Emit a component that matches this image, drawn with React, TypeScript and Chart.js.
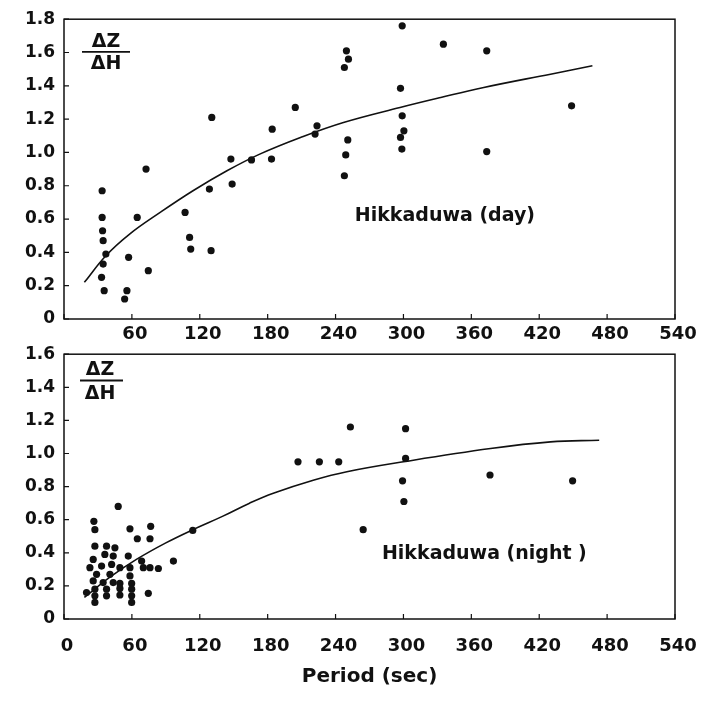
import React, { useEffect, useRef } from "react";
import { Chart, registerables } from "chart.js";

Chart.register(...registerables);

// ---------- data ----------
const dayPeriod = [
  33.7, 33.7, 34.1, 34.6, 37.0, 34.6, 33.2, 35.5, 55.6, 53.6, 57.1, 64.7, 72.5, 74.5,
  107, 111, 112, 130, 128.5, 130.6, 147.5, 148.6, 165.7, 183.4, 184, 204.4, 223.6, 221.9,
  249.6, 251.4, 247.8, 250.8, 249, 247.8, 298.9, 297.4, 298.9, 300.4, 297.4, 298.6,
  335.3, 373.6, 373.6, 448.6,
];
const dayRatio = [
  0.77, 0.61, 0.53, 0.47, 0.39, 0.33, 0.25, 0.17, 0.17, 0.12, 0.37, 0.61, 0.9, 0.29,
  0.64, 0.49, 0.42, 0.41, 0.78, 1.21, 0.96, 0.81, 0.955, 0.96, 1.14, 1.27, 1.16, 1.11,
  1.61, 1.56, 1.51, 1.075, 0.985, 0.86, 1.76, 1.385, 1.22, 1.13, 1.09, 1.02,
  1.65, 1.61, 1.005, 1.28,
];
const dayCurvePeriod = [18, 37, 58, 85, 114, 144, 173, 209, 247, 297, 333, 371, 430, 467];
const dayCurveRatio = [0.22, 0.38, 0.51, 0.64, 0.77, 0.89, 0.99, 1.09, 1.18, 1.27, 1.33, 1.39, 1.47, 1.52];

const nightPeriod = [
  47.9, 26.4, 27.3, 58.3, 76.6, 64.8, 76, 27.3, 37.6, 45, 36.1, 43.5, 25.8, 56.8, 68.6,
  22.9, 33.2, 42.1, 49.4, 58.3, 70.1, 76, 83.4, 28.8, 40.6, 58.3, 25.8, 34.6, 43.5, 49.4,
  59.8, 27.3, 37.6, 49.4, 59.8, 19.9, 27.3, 37.6, 49.4, 59.8, 27.3, 59.8, 74.5, 96.7, 113.8,
  206.8, 225.7, 242.8, 253.1, 301.9, 301.9, 299.2, 300.4, 264.4, 376.5, 449.5,
];
const nightRatio = [
  0.68, 0.59, 0.54, 0.545, 0.56, 0.485, 0.485, 0.44, 0.44, 0.43, 0.39, 0.38, 0.36, 0.38, 0.35,
  0.31, 0.32, 0.33, 0.31, 0.31, 0.31, 0.31, 0.305, 0.27, 0.27, 0.26, 0.23, 0.22, 0.22, 0.215,
  0.215, 0.18, 0.18, 0.185, 0.18, 0.16, 0.14, 0.14, 0.145, 0.14, 0.1, 0.1, 0.155, 0.35, 0.535,
  0.95, 0.95, 0.95, 1.16, 1.15, 0.97, 0.835, 0.71, 0.54, 0.87, 0.835,
];
const nightCurvePeriod = [18, 40, 64, 90, 114, 140, 164, 185, 221, 250, 300, 377, 430, 473];
const nightCurveRatio = [0.13, 0.25, 0.36, 0.46, 0.54, 0.62, 0.7, 0.76, 0.84, 0.89, 0.95, 1.03, 1.07, 1.08];

const periodTicks = [0, 60, 120, 180, 240, 300, 360, 420, 480, 540];
const dayRatioTicks = [0, 0.2, 0.4, 0.6, 0.8, 1.0, 1.2, 1.4, 1.6, 1.8];
const nightRatioTicks = [0, 0.2, 0.4, 0.6, 0.8, 1.0, 1.2, 1.4, 1.6];

const dayLabel = "Hikkaduwa (day)";
const nightLabel = "Hikkaduwa (night )";
const fracTop = "ΔZ";
const fracBottom = "ΔH";
const xTitle = "Period (sec)";

// ---------- styling ----------
const FONT = "'DejaVu Sans', 'Liberation Sans', sans-serif";
const INK = "#111111";

type PanelCfg = {
  xPts: number[];
  yPts: number[];
  xCurve: number[];
  yCurve: number[];
  yTicks: number[];
  yMax: number;
  label: string;
  labelAt: [number, number];
  frac: { dx: number; zDy: number; lineDy: number; lineX0: number; lineX1: number; hDy: number };
  showZeroX: boolean;
  padTop: number;
  xAxisHeight: number;
  xTickPad: number;
  showTitle: boolean;
};

function decorPlugin(cfg: PanelCfg) {
  return {
    id: "decor",
    afterDraw(chart: any) {
      const { ctx, chartArea: a, scales } = chart;
      const xs = scales.x;
      const ys = scales.y;
      ctx.save();
      ctx.strokeStyle = INK;
      ctx.lineWidth = 1.5;
      ctx.strokeRect(a.left, a.top, a.right - a.left, a.bottom - a.top);
      ctx.lineWidth = 1.2;
      ctx.beginPath();
      for (const t of xs.ticks) {
        const px = xs.getPixelForValue(t.value);
        ctx.moveTo(px, a.bottom);
        ctx.lineTo(px, a.bottom - 5);
      }
      for (const t of ys.ticks) {
        const py = ys.getPixelForValue(t.value);
        ctx.moveTo(a.left, py);
        ctx.lineTo(a.left + 5, py);
      }
      ctx.stroke();

      // fraction ΔZ / ΔH
      const f = cfg.frac;
      ctx.fillStyle = INK;
      ctx.font = `bold 19px ${FONT}`;
      ctx.textAlign = "center";
      ctx.textBaseline = "middle";
      ctx.fillText(fracTop, a.left + f.dx, a.top + f.zDy);
      ctx.fillText(fracBottom, a.left + f.dx, a.top + f.hDy);
      ctx.lineWidth = 1.8;
      ctx.beginPath();
      ctx.moveTo(a.left + f.lineX0, a.top + f.lineDy);
      ctx.lineTo(a.left + f.lineX1, a.top + f.lineDy);
      ctx.stroke();

      // panel label
      ctx.font = `bold 19px ${FONT}`;
      ctx.textAlign = "left";
      ctx.fillText(cfg.label, xs.getPixelForValue(cfg.labelAt[0]), ys.getPixelForValue(cfg.labelAt[1]));
      ctx.restore();
    },
  };
}

function buildChart(canvas: HTMLCanvasElement, cfg: PanelCfg) {
  const pts = cfg.xPts.map((x, i) => ({ x, y: cfg.yPts[i] }));
  const curve = cfg.xCurve.map((x, i) => ({ x, y: cfg.yCurve[i] }));
  return new Chart(canvas, {
    type: "scatter",
    data: {
      datasets: [
        {
          data: pts,
          pointRadius: 3.6,
          pointBackgroundColor: INK,
          pointBorderWidth: 0,
          showLine: false,
        },
        {
          data: curve,
          showLine: true,
          borderColor: INK,
          borderWidth: 1.6,
          pointRadius: 0,
          tension: 0.4,
        } as any,
      ],
    },
    options: {
      animation: false,
      responsive: false,
      devicePixelRatio: 1,
      layout: { padding: { top: cfg.padTop, left: 0, right: 42, bottom: 0 } },
      plugins: { legend: { display: false }, tooltip: { enabled: false } },
      scales: {
        x: {
          type: "linear",
          min: 0,
          max: 540,
          grid: { display: false, drawTicks: false, tickLength: 0 },
          border: { display: false },
          afterBuildTicks: (s: any) => {
            s.ticks = periodTicks.map((v) => ({ value: v }));
          },
          afterFit: (s: any) => {
            s.height = cfg.xAxisHeight;
          },
          ticks: {
            color: INK,
            font: { family: FONT, size: 18, weight: "bold" },
            padding: cfg.xTickPad,
            labelOffset: 3,
            maxRotation: 0,
            autoSkip: false,
            callback: (v: any) => (v === 0 && !cfg.showZeroX ? "" : String(v)),
          },
          title: {
            display: cfg.showTitle,
            text: xTitle,
            color: INK,
            font: { family: FONT, size: 20, weight: "bold" },
            padding: { top: 0, bottom: 17 },
          },
        },
        y: {
          type: "linear",
          min: 0,
          max: cfg.yMax,
          grid: { display: false, drawTicks: false, tickLength: 0 },
          border: { display: false },
          afterBuildTicks: (s: any) => {
            s.ticks = cfg.yTicks.map((v) => ({ value: v }));
          },
          afterFit: (s: any) => {
            s.width = 64;
          },
          ticks: {
            color: INK,
            font: { family: FONT, size: 17, weight: "bold" },
            padding: 9,
            autoSkip: false,
            callback: (v: any) => (Math.abs(v) < 1e-9 ? "0" : Number(v).toFixed(1)),
          },
        },
      },
    },
    plugins: [decorPlugin(cfg)],
  });
}

const dayCfg: PanelCfg = {
  xPts: dayPeriod,
  yPts: dayRatio,
  xCurve: dayCurvePeriod,
  yCurve: dayCurveRatio,
  yTicks: dayRatioTicks,
  yMax: 1.8,
  label: dayLabel,
  labelAt: [257, 0.62],
  frac: { dx: 42, zDy: 22.5, lineDy: 32.7, lineX0: 18, lineX1: 66, hDy: 45 },
  showZeroX: false,
  padTop: 19,
  xAxisHeight: 31,
  xTickPad: 5,
  showTitle: false,
};

const nightCfg: PanelCfg = {
  xPts: nightPeriod,
  yPts: nightRatio,
  xCurve: nightCurvePeriod,
  yCurve: nightCurveRatio,
  yTicks: nightRatioTicks,
  yMax: 1.6,
  label: nightLabel,
  labelAt: [281, 0.395],
  frac: { dx: 36, zDy: 15.5, lineDy: 26.3, lineX0: 16, lineX1: 59, hDy: 39.5 },
  showZeroX: true,
  padTop: 17,
  xAxisHeight: 87,
  xTickPad: 17,
  showTitle: true,
};

export default function App() {
  const topRef = useRef<HTMLCanvasElement | null>(null);
  const botRef = useRef<HTMLCanvasElement | null>(null);

  useEffect(() => {
    const c1 = buildChart(topRef.current!, dayCfg);
    const c2 = buildChart(botRef.current!, nightCfg);
    return () => {
      c1.destroy();
      c2.destroy();
    };
  }, []);

  return (
    <div style={{ position: "absolute", left: 0, top: 0, width: 717, height: 706, background: "#fff" }}>
      <canvas
        ref={topRef}
        width={717}
        height={350}
        style={{ position: "absolute", left: 0, top: 0, width: 717, height: 350 }}
      />
      <canvas
        ref={botRef}
        width={717}
        height={371}
        style={{ position: "absolute", left: 0, top: 335, width: 717, height: 371 }}
      />
    </div>
  );
}
